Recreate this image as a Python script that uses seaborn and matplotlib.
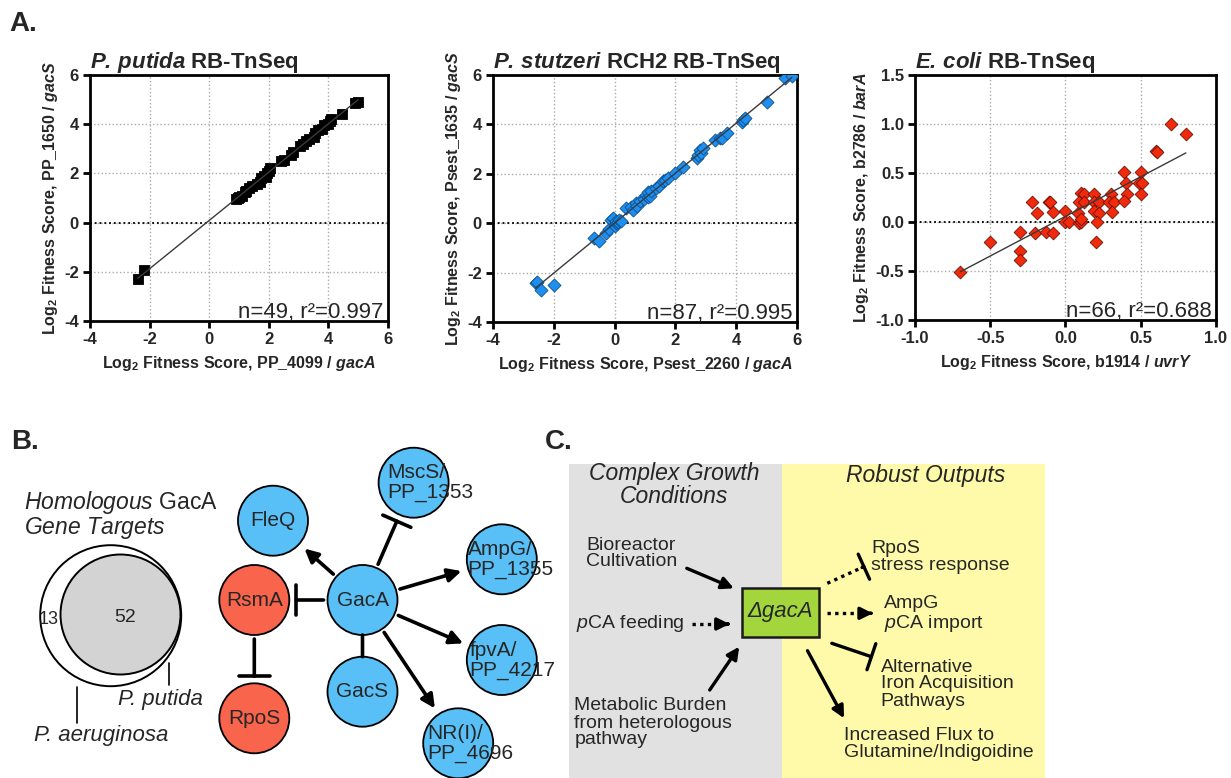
import numpy as np
import pandas as pd
import seaborn as sns
import matplotlib.pyplot as plt
from matplotlib.patches import Circle, Rectangle

# ---- panel A data: log2 fitness scores ----
putida_x = [-2.4, -2.2, 0.9, 0.95, 1.0, 1.1, 1.2, 1.25, 1.35, 1.45, 1.6, 1.7, 1.75, 1.85, 1.9,
            1.95, 2.0, 2.05, 2.4, 2.5, 2.75, 2.8, 3.05, 3.15, 3.25, 3.35, 3.5, 3.55, 3.65, 3.8,
            3.85, 4.0, 4.05, 4.1, 4.45, 4.9, 5.0]
putida_y = [-2.3, -1.93, 0.95, 1.0, 1.05, 1.1, 1.25, 1.3, 1.4, 1.5, 1.55, 1.65, 1.8, 1.9, 1.85,
            2.0, 2.1, 2.2, 2.5, 2.55, 2.75, 2.85, 3.1, 3.2, 3.3, 3.4, 3.5, 3.65, 3.75, 3.8,
            3.95, 4.0, 4.15, 4.2, 4.4, 4.85, 4.9]

stutzeri_x = [-2.6, -2.55, -2.43, -1.99, -0.67, -0.51, -0.29, -0.2, -0.12, -0.07, 0.0, 0.04,
              0.05, 0.1, 0.15, 0.21, 0.38, 0.54, 0.6, 0.71, 0.75, 0.82, 0.95, 1.04, 1.09, 1.1,
              1.15, 1.2, 1.37, 1.45, 1.59, 1.65, 1.75, 1.97, 2.25, 2.7, 2.75, 2.8, 2.85, 2.91,
              3.3, 3.46, 3.52, 3.68, 4.18, 4.23, 4.29, 5.01, 5.61, 5.83]
stutzeri_y = [-2.43, -2.36, -2.7, -2.5, -0.61, -0.74, -0.4, -0.22, 0.13, 0.2, -0.13, 0.0,
              0.1, 0.05, 0.15, 0.07, 0.61, 0.67, 0.55, 0.81, 0.7, 0.88, 1.0, 1.15, 1.08, 1.25,
              1.1, 1.3, 1.42, 1.5, 1.69, 1.75, 1.82, 2.02, 2.29, 2.65, 2.77, 2.97, 2.85, 3.04,
              3.37, 3.44, 3.45, 3.64, 4.1, 4.18, 4.25, 4.92, 5.87, 5.94]

ecoli_x = [-0.7, -0.5, -0.3, -0.3, -0.3, -0.22, -0.19, -0.2, -0.11, -0.1, -0.08, -0.13, -0.08,
           0.0, 0.0, 0.02, 0.08, 0.09, 0.1, 0.1, 0.12, 0.09, 0.12, 0.1, 0.19, 0.19, 0.22, 0.19,
           0.22, 0.21, 0.2, 0.3, 0.29, 0.32, 0.31, 0.39, 0.4, 0.41, 0.39, 0.5, 0.49, 0.51, 0.5,
           0.6, 0.61, 0.7, 0.8]
ecoli_y = [-0.51, -0.2, -0.1, -0.3, -0.39, 0.2, 0.09, -0.11, 0.2, 0.2, 0.1, -0.1, -0.11,
           0.11, 0.0, 0.0, 0.09, -0.01, 0.0, 0.3, 0.29, 0.2, 0.2, 0.03, 0.29, 0.2, 0.2, 0.11,
           0.09, 0.0, -0.2, 0.29, 0.2, 0.2, 0.1, 0.51, 0.4, 0.29, 0.21, 0.51, 0.4, 0.4, 0.29,
           0.72, 0.71, 1.0, 0.9]

pp_ticks = [-4, -2, 0, 2, 4, 6]
ec_xticks = [-1.0, -0.5, 0.0, 0.5, 1.0]
ec_yticks = [-1.0, -0.5, 0.0, 0.5, 1.0, 1.5]

titles = [r"$\mathbfit{P.\,putida}$ RB-TnSeq",
          r"$\mathbfit{P.\,stutzeri}$ RCH2 RB-TnSeq",
          r"$\mathbfit{E.\,coli}$ RB-TnSeq"]
xlabels = [r"Log$_\mathbf{2}$ Fitness Score, PP_4099 / $\mathbfit{gacA}$",
           r"Log$_\mathbf{2}$ Fitness Score, Psest_2260 / $\mathbfit{gacA}$",
           r"Log$_\mathbf{2}$ Fitness Score, b1914 / $\mathbfit{uvrY}$"]
ylabels = [r"Log$_\mathbf{2}$ Fitness Score, PP_1650 / $\mathbfit{gacS}$",
           r"Log$_\mathbf{2}$ Fitness Score, Psest_1635 / $\mathbfit{gacS}$",
           r"Log$_\mathbf{2}$ Fitness Score, b2786 / $\mathbfit{barA}$"]
stats = ["n=49, r²=0.997", "n=87, r²=0.995", "n=66, r²=0.688"]

# ---- panel B data ----
venn_counts = [13, 52]
venn_names = ["P. aeruginosa", "P. putida"]
node_names = ["GacA", "GacS", "FleQ", "RsmA", "RpoS",
              "MscS/\nPP_1353", "AmpG/\nPP_1355", "fpvA/\nPP_4217", "NR(I)/\nPP_4696"]
node_colors = ["#58C0F6", "#58C0F6", "#58C0F6", "#F8644C", "#F8644C",
               "#58C0F6", "#58C0F6", "#58C0F6", "#58C0F6"]
edges = [("GacA", "FleQ", "act"), ("GacA", "MscS/\nPP_1353", "inh"),
         ("GacA", "AmpG/\nPP_1355", "act"), ("GacA", "fpvA/\nPP_4217", "act"),
         ("GacA", "NR(I)/\nPP_4696", "act"), ("GacA", "GacS", "line"),
         ("GacA", "RsmA", "inh"), ("RsmA", "RpoS", "inh")]

# ---- panel C data ----
c_headers = ["Complex Growth\nConditions", "Robust Outputs"]
c_inputs = ["Bioreactor\nCultivation", r"$\it{p}$CA feeding",
            "Metabolic Burden\nfrom heterologous\npathway"]
c_outputs = ["RpoS\nstress response", "AmpG\n" + r"$\it{p}$CA import",
             "Alternative\nIron Acquisition\nPathways", "Increased Flux to\nGlutamine/Indigoidine"]

# ---- layout (pixels on a 1231 x 778 canvas) ----
node_pos = {"GacA": (362.5, 600), "GacS": (362.5, 691.7), "FleQ": (273, 520.7),
            "RsmA": (254.3, 600), "RpoS": (254.3, 718.3), "MscS/\nPP_1353": (413.6, 482.7),
            "AmpG/\nPP_1355": (501.8, 559.3), "fpvA/\nPP_4217": (501.8, 660),
            "NR(I)/\nPP_4696": (458.2, 743.3)}
label_left = {"MscS/\nPP_1353": 387.5, "AmpG/\nPP_1355": 467.5,
              "fpvA/\nPP_4217": 469.5, "NR(I)/\nPP_4696": 426.8}
node_r = 35

sns.set_style("ticks")
plt.rcParams["font.family"] = ["Liberation Sans", "DejaVu Sans"]
plt.rcParams["mathtext.fontset"] = "custom"
plt.rcParams["mathtext.rm"] = "Liberation Sans"
plt.rcParams["mathtext.it"] = "Liberation Sans:italic"
plt.rcParams["mathtext.bf"] = "Liberation Sans:bold"
plt.rcParams["mathtext.bfit"] = "Liberation Sans:italic:bold"
plt.rcParams["axes.unicode_minus"] = False

fig = plt.figure(figsize=(12.31, 7.78), dpi=100)

# canvas for panel letters and diagrams
ax_d = fig.add_axes([0, 0, 1, 1])
ax_d.set_xlim(0, 1231)
ax_d.set_ylim(778, 0)
ax_d.axis("off")


def fitness_panel(rect, xs, ys, marker, face, edge, size, xt, yt, fmt, i):
    ax = fig.add_axes(rect)
    df = pd.DataFrame({"x": xs, "y": ys})
    sns.regplot(data=df, x="x", y="y", ax=ax, ci=None, marker=marker, color=face,
                scatter_kws={"s": size, "edgecolors": edge, "linewidths": 0.6,
                             "alpha": 1, "zorder": 3},
                line_kws={"color": "#3a3a3a", "lw": 1.0, "zorder": 4})
    ax.set_xlim(xt[0], xt[-1])
    ax.set_ylim(yt[0], yt[-1])
    ax.set_xticks(xt)
    ax.set_yticks(yt)
    ax.set_xticklabels([fmt.format(t) for t in xt], fontweight="bold", fontsize=12)
    ax.set_yticklabels([fmt.format(t) for t in yt], fontweight="bold", fontsize=12)
    ax.grid(True, color="#aaaaaa", ls=":", lw=1.0)
    ax.set_axisbelow(True)
    ax.axhline(0, color="black", ls=":", lw=1.3, zorder=2)
    for s in ax.spines.values():
        s.set_linewidth(2)
        s.set_color("black")
    ax.tick_params(direction="out", length=5, width=2, color="black", pad=3)
    ax.set_title(titles[i], loc="left", fontsize=16, fontweight="bold", pad=1)
    ax.set_xlabel(xlabels[i], fontsize=11.5, fontweight="bold", labelpad=5)
    ax.set_ylabel(ylabels[i], fontsize=11.5, fontweight="bold", labelpad=3)
    ax.text(0.985, 0.012, stats[i], transform=ax.transAxes, ha="right", va="baseline",
            fontsize=16)
    return ax


fitness_panel([0.0731, 0.5874, 0.2421, 0.3162], putida_x, putida_y, "s", "black", "black",
              60, pp_ticks, pp_ticks, "{:d}", 0)
fitness_panel([0.4005, 0.5861, 0.2470, 0.3175], stutzeri_x, stutzeri_y, "D", "#1E8FF0",
              "#0b4f8a", 44, pp_ticks, pp_ticks, "{:d}", 1)
fitness_panel([0.7433, 0.5887, 0.2445, 0.3149], ecoli_x, ecoli_y, "D", "#F22A0C",
              "#6e1005", 42, ec_xticks, ec_yticks, "{:.1f}", 2)

# panel letters
for letter, (lx, ly) in zip(["A.", "B.", "C."], [(9, 31), (11, 449), (545, 449)]):
    ax_d.text(lx, ly, letter, fontsize=20, fontweight="bold", va="baseline")

# ---- panel B: venn ----
ax_d.add_patch(Circle((110.7, 615.7), 70.5, fc="white", ec="black", lw=1.4))
ax_d.add_patch(Circle((120.5, 614.5), 60, fc="#d3d3d3", ec="black", lw=1.4))
ax_d.text(49, 620, str(venn_counts[0]), fontsize=13, ha="center", va="center")
ax_d.text(125, 618, str(venn_counts[1]), fontsize=14, ha="center", va="center")
ax_d.text(24, 503, r"$\it{Homologous}$ GacA", fontsize=16.5, va="center")
ax_d.text(24, 528, r"$\it{Gene}$ $\it{Targets}$", fontsize=16.5, va="center")
ax_d.plot([76.8, 76.8], [687, 723], color="black", lw=1.2)
ax_d.plot([169, 169], [663, 685], color="black", lw=1.2)
ax_d.text(34, 735, venn_names[0], fontsize=16, style="italic", va="center")
ax_d.text(118, 700, venn_names[1], fontsize=16, style="italic", va="center")

# ---- panel B: network ----
for name, col in zip(node_names, node_colors):
    cx, cy = node_pos[name]
    ax_d.add_patch(Circle((cx, cy), node_r, fc=col, ec="black", lw=1.3, zorder=2))
    if name in label_left:
        ax_d.text(label_left[name], cy, name, fontsize=15, ha="left", va="center",
                  linespacing=1.05, zorder=3)
    else:
        ax_d.text(cx, cy, name, fontsize=15, ha="center", va="center", zorder=3)


def connect(p0, p1, kind, dotted=False, lw=2.6, ms=20, bar=0.55):
    if kind == "act":
        style = "-|>"
    elif kind == "inh":
        style = f"-[,widthB={bar},lengthB=0"
    else:
        style = "-"
    if dotted:
        # dotted shaft, solid head / bar on a tiny final segment
        ax_d.plot([p0[0], p1[0]], [p0[1], p1[1]], color="black", lw=lw,
                  ls=(0, (1, 1.3)))
        dx, dy = p1[0] - p0[0], p1[1] - p0[1]
        p0 = (p1[0] - dx * 0.05, p1[1] - dy * 0.05)
    ax_d.annotate("", xy=p1, xytext=p0, xycoords="data",
                  arrowprops=dict(arrowstyle=style, lw=lw, color="black", shrinkA=0,
                                  shrinkB=0, mutation_scale=ms))


for a, b, kind in edges:
    (x0, y0), (x1, y1) = node_pos[a], node_pos[b]
    d = np.hypot(x1 - x0, y1 - y0)
    ux, uy = (x1 - x0) / d, (y1 - y0) / d
    s0, s1 = (35, 35) if kind == "line" else (39, 42)
    connect((x0 + ux * s0, y0 + uy * s0), (x1 - ux * s1, y1 - uy * s1), kind)

# ---- panel C ----
ax_d.add_patch(Rectangle((568.6, 464), 213.8, 314, fc="#E1E1E1", ec="none"))
ax_d.add_patch(Rectangle((782.4, 464), 263, 314, fc="#FFFAA9", ec="none"))
ax_d.text(674.4, 485, c_headers[0], fontsize=16.5, style="italic", ha="center",
          va="center", linespacing=1.0)
ax_d.text(925.6, 475, c_headers[1], fontsize=16.5, style="italic", ha="center", va="center")

ax_d.add_patch(Rectangle((741.8, 587.7), 76.7, 49, fc="#A3D53D", ec="#1a1a1a", lw=1.8))
ax_d.text(780, 612, "ΔgacA", fontsize=16, style="italic", ha="center", va="center")

ax_d.text(586.3, 553.5, c_inputs[0], fontsize=14, va="center", linespacing=1.0)
ax_d.text(576, 624, c_inputs[1], fontsize=14, va="center")
ax_d.text(574.4, 723, c_inputs[2], fontsize=14, va="center", linespacing=1.0)

ax_d.text(871.4, 557, c_outputs[0], fontsize=14, va="center", linespacing=1.0)
ax_d.text(883.8, 614.5, c_outputs[1], fontsize=14, va="center", linespacing=1.0)
ax_d.text(880.7, 684, c_outputs[2], fontsize=14, va="center", linespacing=1.0)
ax_d.text(844.1, 744, c_outputs[3], fontsize=14, va="center", linespacing=1.0)

connect((686.8, 568.3), (733.9, 588.3), "act", lw=2.4, ms=18)
connect((692, 624), (729.5, 624), "act", dotted=True, lw=2.4, ms=18)
connect((709.7, 690), (739.2, 646.7), "act", lw=2.4, ms=18)
connect((827.3, 583.3), (863.9, 566.7), "inh", dotted=True, lw=2.4, ms=18)
connect((827.3, 613.3), (872.7, 613.3), "act", dotted=True, lw=2.4, ms=18)
connect((831.8, 643.3), (871.4, 656.7), "inh", lw=2.4, ms=18)
connect((807.5, 650.7), (844.1, 718.3), "act", lw=2.4, ms=18)

fig.savefig("out.png", dpi=100)
